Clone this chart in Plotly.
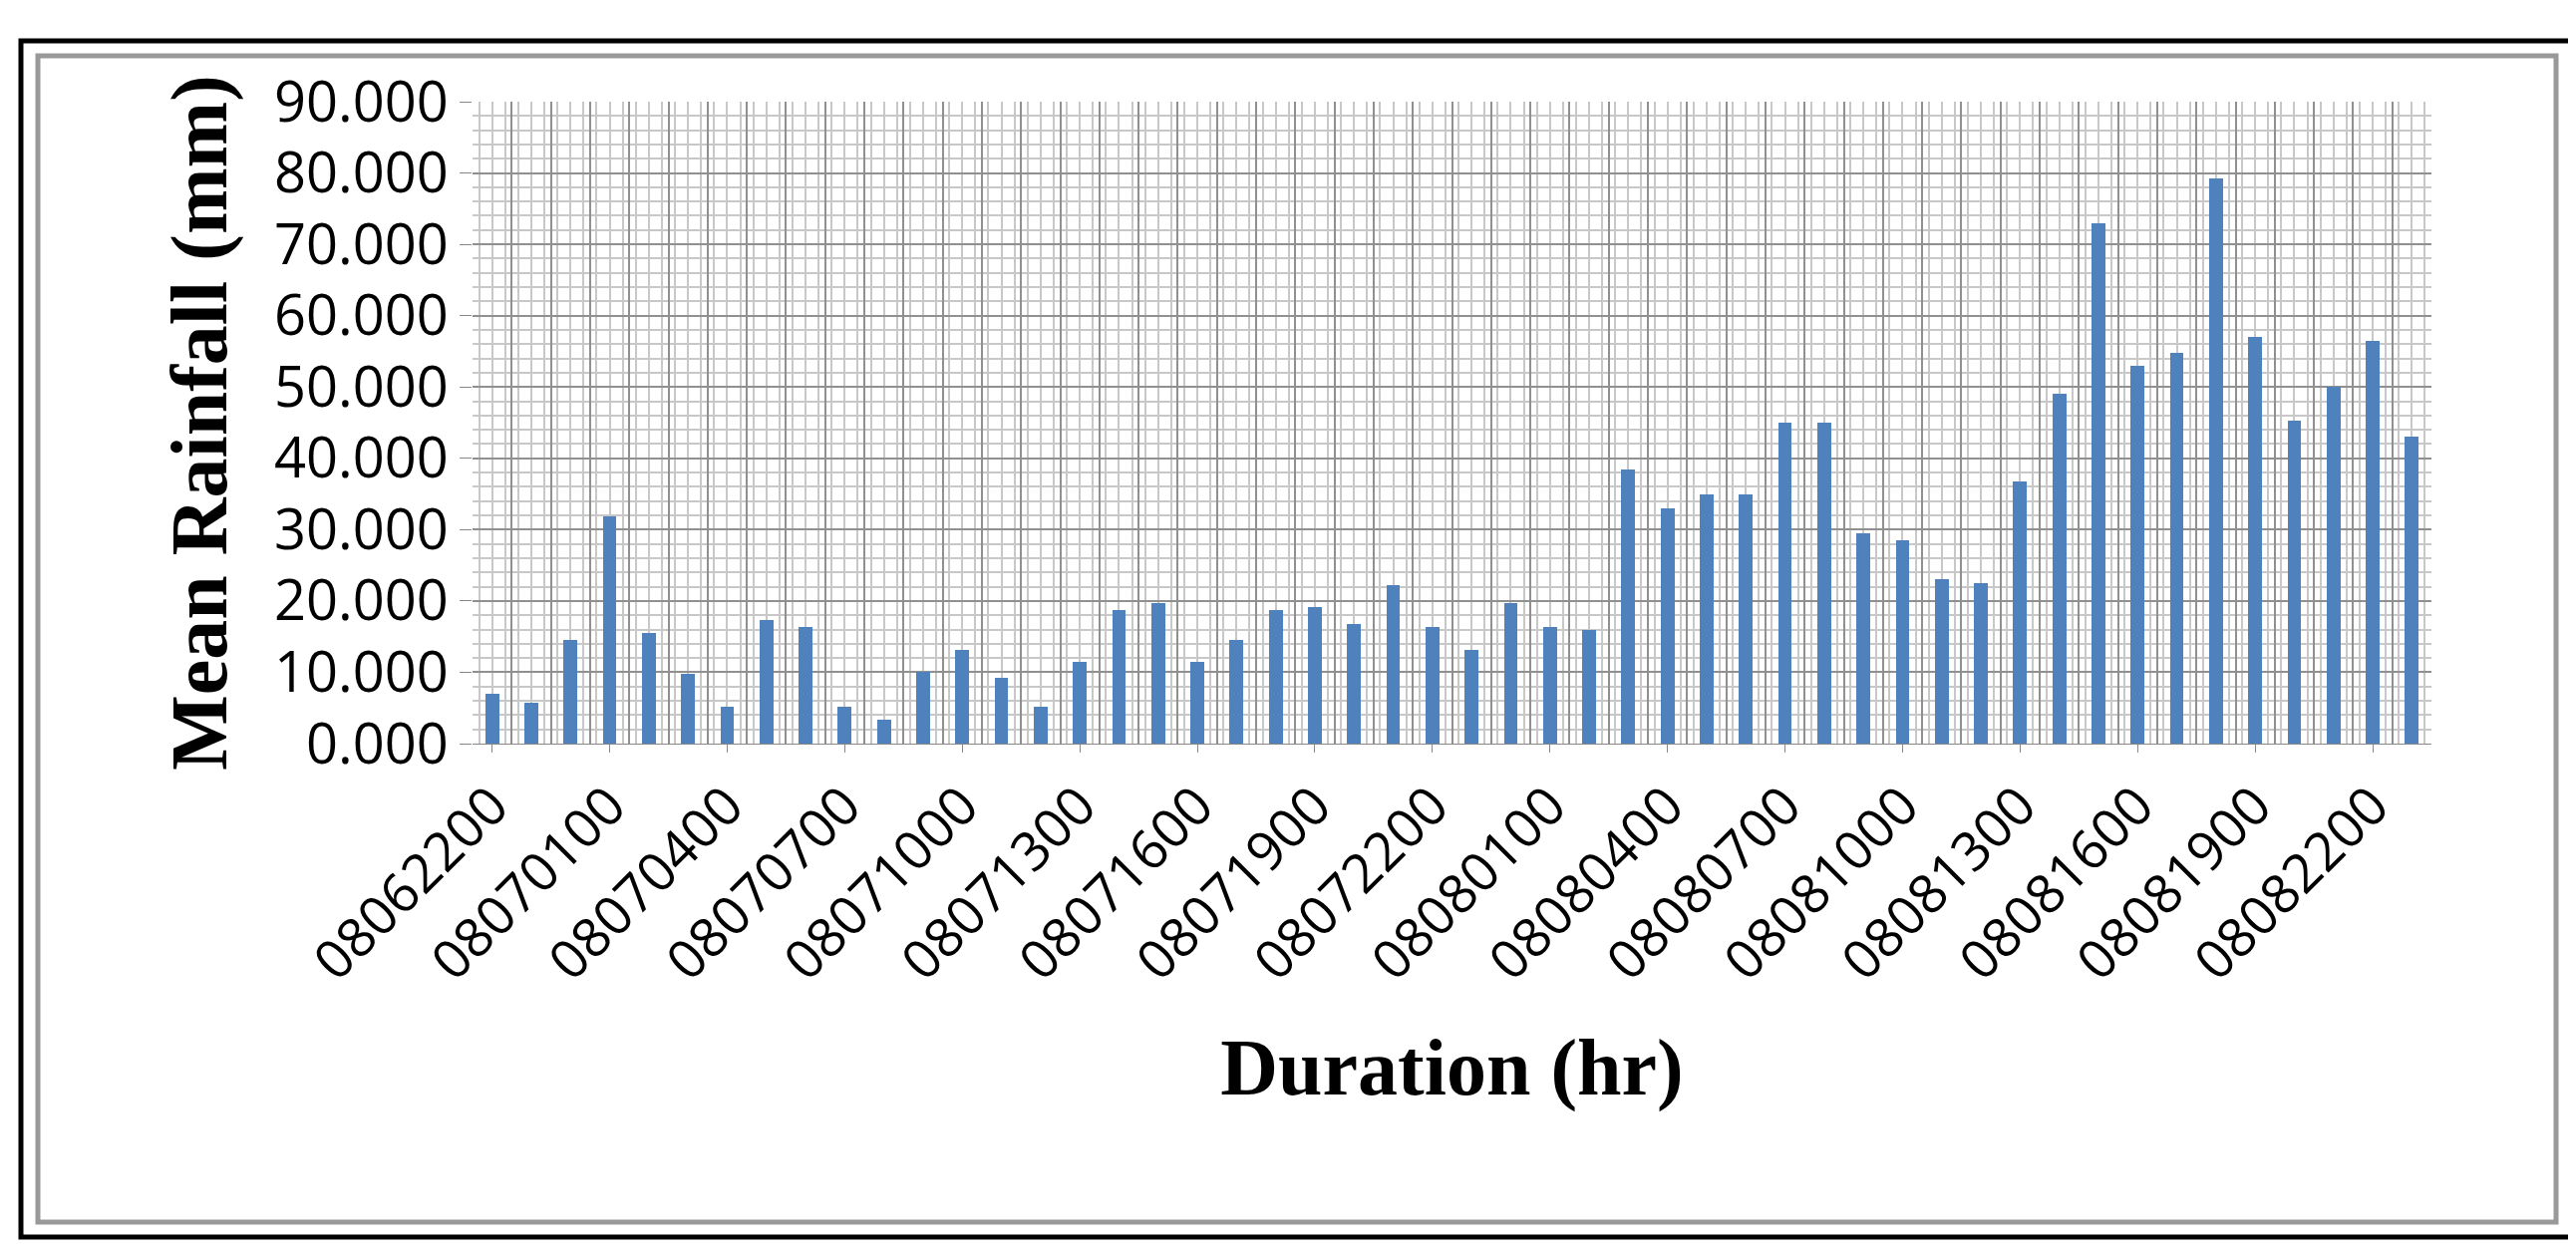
import plotly.graph_objects as go

values = [7.0, 5.8, 14.5, 31.8, 15.5, 9.8, 5.2, 17.3, 16.3, 5.2, 3.4, 10.0, 13.2, 9.2, 5.2,
          11.4, 18.7, 19.7, 11.4, 14.5, 18.7, 19.2, 16.8, 22.2, 16.3, 13.2, 19.7, 16.3, 16.0,
          38.5, 33.0, 35.0, 35.0, 45.0, 45.0, 29.5, 28.5, 23.0, 22.5, 36.7, 49.0, 73.0, 53.0,
          54.8, 79.2, 57.0, 45.3, 50.0, 56.5, 43.0]
tick_labels = ["08062200", "08070100", "08070400", "08070700", "08071000", "08071300",
               "08071600", "08071900", "08072200", "08080100", "08080400", "08080700",
               "08081000", "08081300", "08081600", "08081900", "08082200"]
tick_pos = list(range(0, 50, 3))

W, H = 2584, 1251
L, R, T, B = 466, 2431, 94, 738
pw, ph = R - L, B - T
def px(x): return (x - L) / pw
def py(y): return (B - y) / ph

fig = go.Figure()
fig.add_trace(go.Bar(x=list(range(len(values))), y=values, width=0.35,
                     marker=dict(color="#4F81BD", line=dict(width=0)), xaxis="x"))
fig.add_trace(go.Scatter(x=[-0.5, 49.5], y=[0, 0], mode="markers", marker=dict(opacity=0),
                         xaxis="x2", hoverinfo="skip", showlegend=False))
fig.update_layout(
    width=W, height=H, margin=dict(l=L, r=W - R, t=T, b=H - B),
    paper_bgcolor="white", plot_bgcolor="white", showlegend=False, bargap=0,
    xaxis=dict(range=[-0.5, 49.5], tickvals=tick_pos, ticktext=tick_labels, tickangle=-45,
               showgrid=False, zeroline=False, showline=True, linecolor="#888888",
               ticks="outside", ticklen=8, tickcolor="#888888",
               tickfont=dict(family="Open Sans", size=54, color="black"),
               title=dict(text="<b>Duration (hr)</b>", standoff=45,
                          font=dict(family="Liberation Serif", size=80, color="black"))),
    xaxis2=dict(range=[-0.5, 49.5], overlaying="x", tick0=-0.5, dtick=1, showticklabels=False,
                showgrid=True, gridcolor="#909090", gridwidth=2, zeroline=False,
                minor=dict(dtick=1/3, showgrid=True, gridcolor="#c8c8c8", gridwidth=2)),
    yaxis=dict(range=[0, 90], dtick=10, tickformat=".3f", showgrid=True, gridcolor="#909090",
               gridwidth=2, zeroline=False, ticks="outside", ticklen=12, tickcolor="#888888",
               minor=dict(dtick=2, showgrid=True, gridcolor="#c8c8c8", gridwidth=2),
               tickfont=dict(family="Open Sans", size=56, color="black"),
               title=dict(text="<b>Mean Rainfall (mm)</b>", standoff=20,
                          font=dict(family="Liberation Serif", size=80, color="black"))),
    shapes=[
        dict(type="rect", xref="paper", yref="paper", x0=px(13), x1=px(2571), y0=py(1233), y1=py(33),
             line=dict(color="black", width=5)),
        dict(type="rect", xref="paper", yref="paper", x0=px(30), x1=px(2556), y0=py(1218), y1=py(48),
             line=dict(color="#999999", width=5)),
    ],
)
fig.write_html("out.html")
